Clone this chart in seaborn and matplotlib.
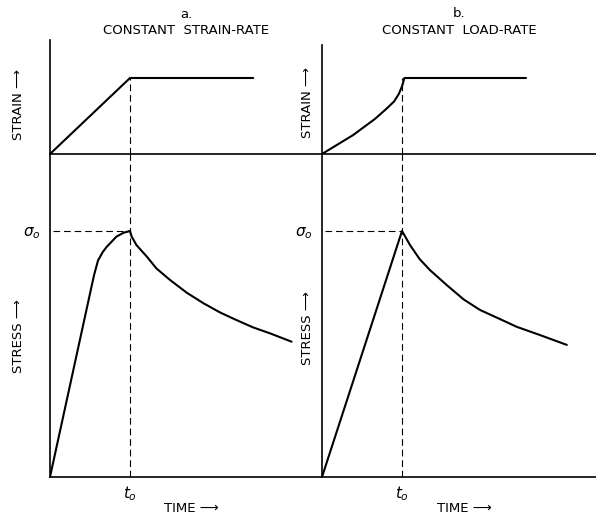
import numpy as np
import matplotlib
matplotlib.use("Agg")
import matplotlib.pyplot as plt
import seaborn as sns

# time in units of t0, strain / stress in units of their final / peak values
strain_a_t = [0.0, 1.0, 2.54]
strain_a = [0.0, 1.0, 1.0]

strain_b_t = [0.0, 0.39, 0.66, 0.80, 0.90, 0.96, 1.0, 1.03, 2.55]
strain_b = [0.0, 0.25, 0.46, 0.59, 0.69, 0.79, 0.89, 1.0, 1.0]

stress_a_t = [0.0, 0.55, 0.60, 0.66, 0.71, 0.83, 0.92, 1.0, 1.02, 1.08, 1.21, 1.33,
              1.5, 1.71, 1.92, 2.125, 2.33, 2.54, 2.75, 3.02]
stress_a = [0.0, 0.82, 0.88, 0.915, 0.936, 0.977, 0.993, 1.0, 0.978, 0.943, 0.896, 0.848,
            0.801, 0.749, 0.706, 0.669, 0.638, 0.608, 0.584, 0.55]

stress_b_t = [0.0, 1.0, 1.06, 1.1, 1.22, 1.35, 1.56, 1.77, 1.975, 2.225, 2.43, 2.725, 3.06]
stress_b = [0.0, 1.0, 0.966, 0.943, 0.886, 0.841, 0.78, 0.722, 0.679, 0.642, 0.611, 0.577, 0.537]

titles = ["a.\nCONSTANT  STRAIN-RATE", "b.\nCONSTANT  LOAD-RATE"]

sns.set_style("white")
plt.rcParams["font.family"] = ["DejaVu Sans"]
plt.rcParams["text.color"] = "black"
plt.rcParams["axes.labelcolor"] = "black"

W, H = 596, 517
fig = plt.figure(figsize=(W / 100, H / 100), dpi=100)


def box(x0, y0, x1, y1):
    # pixel box -> figure fraction
    return [x0 / W, 1 - y1 / H, (x1 - x0) / W, (y1 - y0) / H]


px_t = 80.0      # pixels per t0
px_eps = 76.0    # pixels per unit strain
px_sig = 246.0   # pixels per sigma0

# x0, top of strain axes, x1, label x, strain label centre, stress label centre, title pad
panels = [
    (50, 40, 322, 19, 105, 336, 4, strain_a_t, strain_a, stress_a_t, stress_a, titles[0]),
    (322, 45, 596, 307, 103, 328, 8, strain_b_t, strain_b, stress_b_t, stress_b, titles[1]),
]

dash = (0, (6, 3.5))
fs = 9.5
for x0, ytop, x1, lx, ey, sy, tpad, et, ev, st, sv, title in panels:
    ax_e = fig.add_axes(box(x0, ytop, x1, 154))
    ax_s = fig.add_axes(box(x0, 154, x1, 477))

    for ax in (ax_e, ax_s):
        ax.set_facecolor("none")
        ax.set_xlim(0, (x1 - x0) / px_t)
        for side in ("top", "right"):
            ax.spines[side].set_visible(False)
        for side in ("left", "bottom"):
            ax.spines[side].set_color("black")
            ax.spines[side].set_linewidth(1.2)
        ax.tick_params(length=0, labelsize=11, colors="black")

    ax_e.set_ylim(0, (154 - ytop) / px_eps)
    ax_s.set_ylim(0, (477 - 154) / px_sig)

    sns.lineplot(x=et, y=ev, ax=ax_e, color="black", lw=1.5,
                 estimator=None, sort=False, solid_joinstyle="round")
    sns.lineplot(x=st, y=sv, ax=ax_s, color="black", lw=1.5,
                 estimator=None, sort=False, solid_joinstyle="round")

    ax_e.vlines(1.0, 0, 1.0, color="black", lw=0.8, linestyles=[dash])
    ax_s.vlines(1.0, 0, (477 - 154) / px_sig, color="black", lw=0.8,
                linestyles=[dash])
    ax_s.hlines(1.0, 0.04, 1.0, color="black", lw=0.8, linestyles=[dash])

    ax_e.set_xticks([])
    ax_e.set_yticks([])
    ax_s.set_xticks([1.0])
    ax_s.set_xticklabels(["$t_o$"])
    ax_s.set_yticks([1.0])
    ax_s.set_yticklabels([r"$\sigma_o$"])
    ax_s.tick_params(axis="x", pad=5)
    ax_s.tick_params(axis="y", pad=7)

    ax_e.set_title(title, fontsize=fs, linespacing=1.35, pad=tpad, color="black")
    ax_e.set_ylabel("STRAIN \u27f6", fontsize=fs)
    ax_s.set_ylabel("STRESS \u27f6", fontsize=fs)
    ax_s.set_xlabel("TIME \u27f6", fontsize=fs)
    ax_s.xaxis.label.set_va("center")
    ax_s.xaxis.set_label_coords(0.5 + 5 / (x1 - x0), -(508 - 477) / 323)

    for ax, yc, y0, y1 in ((ax_e, ey, ytop, 154), (ax_s, sy, 154, 477)):
        ax.yaxis.label.set_va("center")
        ax.yaxis.set_label_coords(-(x0 - lx) / (x1 - x0), (y1 - yc) / (y1 - y0))

fig.savefig("out.png", dpi=100)
